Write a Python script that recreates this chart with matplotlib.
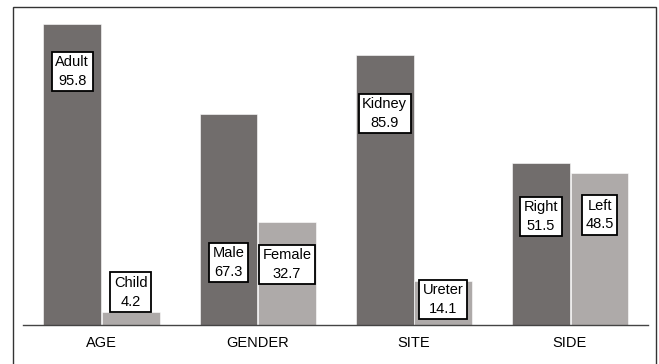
import matplotlib.pyplot as plt
from matplotlib.patches import Rectangle

plt.rcParams['font.family'] = ['Liberation Sans', 'DejaVu Sans']

categories = ["AGE", "GENDER", "SITE", "SIDE"]
first_names = ["Adult", "Male", "Kidney", "Right"]
first_vals = [95.8, 67.3, 85.9, 51.5]
second_names = ["Child", "Female", "Ureter", "Left"]
second_vals = [4.2, 32.7, 14.1, 48.5]

# where the label boxes sit (data units)
first_label_y = [80.7, 19.9, 67.4, 34.6]
second_label_y = [10.4, 19.3, 8.1, 35.0]

dark = "#716d6c"
light = "#aeaaa9"
w = 0.37
fs = 10.5

fig = plt.figure(figsize=(6.59, 3.64), dpi=100)
ax = fig.add_axes([23/659, 1-325/364, (648-23)/659, 314/364])

x = list(range(len(categories)))
ax.bar([i - w for i in x], first_vals, width=w, align="edge", color=dark, edgecolor="white", linewidth=0.4)
ax.bar([i + 0.005 for i in x], second_vals, width=w, align="edge", color=light, edgecolor="white", linewidth=0.4)

box = dict(boxstyle="square,pad=0.25", facecolor="white", edgecolor="black", linewidth=1.3)
for i in x:
    ax.text(i - w/2, first_label_y[i], first_names[i] + "\n" + str(first_vals[i]),
            ha="center", va="center", fontsize=fs, linespacing=1.4, bbox=box)
    ax.text(i + 0.005 + w/2, second_label_y[i], second_names[i] + "\n" + str(second_vals[i]),
            ha="center", va="center", fontsize=fs, linespacing=1.4, bbox=box)

ax.set_xlim(-0.5, 3.5)
ax.set_ylim(0, 100)
ax.set_xticks(x)
ax.set_xticklabels(categories, fontsize=fs)
ax.tick_params(axis="x", length=0, pad=8)
ax.set_yticks([])
for s in ["top", "right", "left"]:
    ax.spines[s].set_visible(False)
ax.spines["bottom"].set_color("#444444")
ax.spines["bottom"].set_linewidth(1.0)

# outer frame round the figure
fig.patches.append(Rectangle((13/659, -0.05), (656-13)/659, 1.05 - 7/364,
                             transform=fig.transFigure, fill=False,
                             edgecolor="#333333", linewidth=1.0))

fig.savefig("out.png", dpi=100)
